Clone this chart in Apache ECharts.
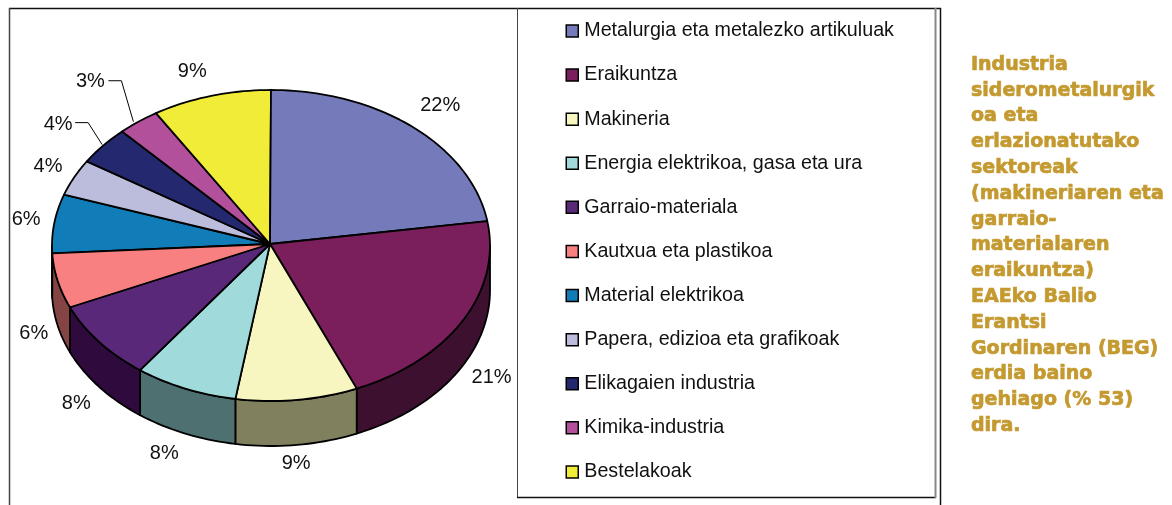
<!DOCTYPE html>
<html>
<head>
<meta charset="utf-8">
<style>html,body{margin:0;padding:0;background:#fff}#c{width:1172px;height:505px}</style>
<script src="https://cdn.jsdelivr.net/npm/echarts@6/dist/echarts.min.js"></script>
</head>
<body>
<div id="c"></div>
<script>
const categories = ['Metalurgia eta metalezko artikuluak','Eraikuntza','Makineria','Energia elektrikoa, gasa eta ura','Garraio-materiala','Kautxua eta plastikoa','Material elektrikoa','Papera, edizioa eta grafikoak','Elikagaien industria','Kimika-industria','Bestelakoak'];
const values = [22.49,21.11,9.0,7.6,8.3,5.7,6.1,3.8,4.0,3.1,8.8];
const valueLabels = ['22%','21%','9%','8%','8%','6%','6%','4%','4%','3%','9%'];
const topColors = ['#757ABA','#7A1F5B','#F7F6C0','#A0DADB','#5A2878','#F98080','#117DB8','#BCBCDC','#24286E','#B2509C','#F0EC38'];
const sideColors = ['#3A3D5D','#3E1030','#80805F','#4F7070','#2E0A3D','#854444','#083E5C','#5E5E6E','#121437','#58284E','#78761C'];
const sideText = 'Industria\nsiderometalurgik\noa eta\nerlazionatutako\nsektoreak\n(makineriaren eta\ngarraio-\nmaterialaren\neraikuntza)\nEAEko Balio\nErantsi\nGordinaren (BEG)\nerdia baino\ngehiago (% 53)\ndira.';

// layout of the tilted pie
const PIE = {cx: 271, cy: 245.5, rx: 219, ry: 155.5, depth: 45};
const labelNudge = [[27,-22],[29,12],[-1,18.5],[-21,20],[-23,17],[-24,7.5],[-28,-4.5],[-26,-11],[-45,-21.5],[-48,-40.5],[-19,-24.5]];
const leaders = {8:{from:[-1,-1],elbow:[-15,-23],to:[-28,-23]}, 9:{from:[-5,0],elbow:[-17,-41],to:[-30,-41]}};

const total = values.reduce((a,b)=>a+b,0);
const toAngle = v => v/total*360;
const starts = values.reduce((acc,v,i)=>{acc.push(i?acc[i-1]+toAngle(values[i-1]):0);return acc;},[]);
const rim = (deg, drop) => {
  const t = deg*Math.PI/180;
  return [PIE.cx+PIE.rx*Math.sin(t), PIE.cy-PIE.ry*Math.cos(t)+(drop||0)];
};
const arc = (a,b,drop) => {
  const n = Math.max(2,Math.ceil((b-a)/1.5)), pts=[];
  for(let i=0;i<=n;i++) pts.push(rim(a+(b-a)*i/n,drop));
  return pts;
};

function renderSlice(params, api){
  const i = params.seriesIndex;
  const a = starts[i], b = a+toAngle(api.value(0));
  const children = [];
  const fa = Math.max(a,90), fb = Math.min(b,270);
  if(fb>fa){
    children.push({type:'polygon',shape:{points:arc(fa,fb,0).concat(arc(fa,fb,PIE.depth).reverse())},
      style:{fill:sideColors[i],stroke:'#000',lineWidth:1.8,lineJoin:'round'}});
  }
  children.push({type:'polygon',shape:{points:[[PIE.cx-1,PIE.cy-1.5]].concat(arc(a,b,0))},
    style:{fill:topColors[i],stroke:'#000',lineWidth:1.8,lineJoin:'round'}});
  const mid=(a+b)/2, front = mid>90&&mid<270;
  const anchor = rim(mid, front?PIE.depth:0);
  const lead = leaders[i];
  if(lead){
    const p=(o)=>[anchor[0]+o[0],anchor[1]+o[1]];
    children.push({type:'polyline',shape:{points:[p(lead.from),p(lead.elbow),p(lead.to)]},style:{stroke:'#000',lineWidth:1,fill:null}});
  }
  children.push({type:'text',style:{text:valueLabels[i],x:anchor[0]+labelNudge[i][0],y:anchor[1]+labelNudge[i][1],
    font:'20px "Liberation Sans"',fill:'#111',align:'center',verticalAlign:'middle'}});
  return {type:'group',children};
}

const series = categories.map((name,i)=>({
  type:'custom',name,coordinateSystem:'none',silent:true,animation:false,
  z:i<6?3:2,
  itemStyle:{color:topColors[i]},
  renderItem:renderSlice,
  data:[[values[i]]]
}));

const frame = (x1,y1,x2,y2,c,w)=>({type:'line',silent:true,z:1,shape:{x1,y1,x2,y2},style:{stroke:c,lineWidth:w}});

const chart = echarts.init(document.getElementById('c'),null,{renderer:'canvas'});
chart.setOption({
  animation:false,
  backgroundColor:'#fff',
  title:{text:sideText,left:971,top:52,padding:0,
    textStyle:{fontFamily:'"DejaVu Sans"',fontWeight:'bold',fontSize:19,lineHeight:25.8,color:'#C49A30',
      textBorderColor:'#C49A30',textBorderWidth:0.7}},
  legend:{
    orient:'vertical',left:565.5,top:20.7,padding:0,selectedMode:false,
    icon:'rect',itemWidth:12,itemHeight:12,itemGap:23.6,
    itemStyle:{borderColor:'#000',borderWidth:1.5},
    textStyle:{fontFamily:'"Liberation Sans"',fontSize:19.7,color:'#111',padding:[0,0,0,1],lineHeight:20.5},
    data:categories
  },
  graphic:[
    frame(9,8.5,941,8.5,'#111',1.5),
    frame(9.5,8,9.5,505,'#444',1.5),
    frame(940.5,8,940.5,505,'#111',1.5),
    frame(517.5,8,517.5,498,'#444',1),
    frame(517,497.5,936,497.5,'#111',1.5),
    frame(935.5,8,935.5,498,'#888',2)
  ],
  series
});
</script>
</body>
</html>
